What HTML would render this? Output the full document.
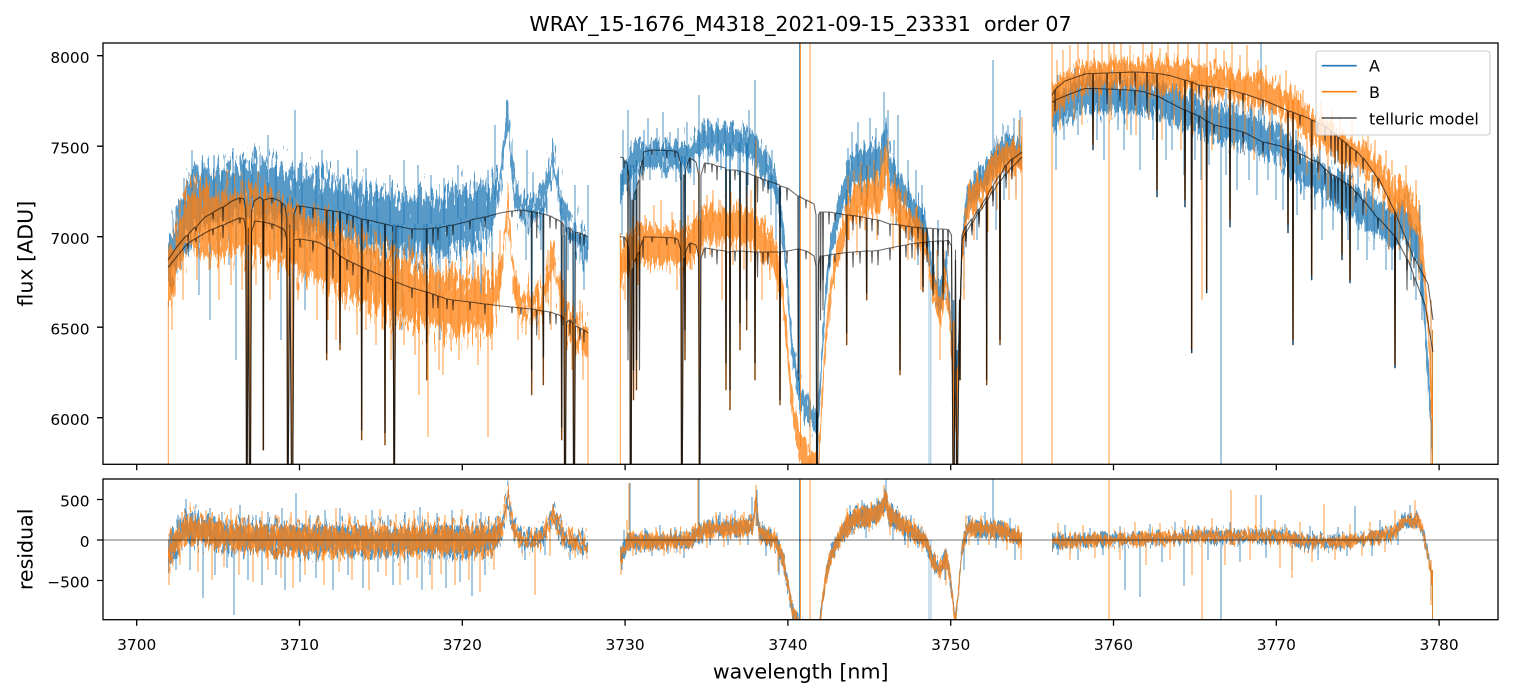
<!DOCTYPE html>
<html><head><meta charset="utf-8">
<style>
html,body{margin:0;padding:0;background:#fff;}
svg{display:block;}
text{font-family:"DejaVu Sans","Liberation Sans",sans-serif;fill:#000;}
</style></head>
<body>
<svg width="1513" height="696" viewBox="0 0 1513 696" xmlns="http://www.w3.org/2000/svg">
<defs>
<clipPath id="ct"><rect x="103" y="43" width="1395" height="421.3"/></clipPath>
<clipPath id="cb"><rect x="103" y="479" width="1395" height="140.7"/></clipPath>
<filter id="fA1" filterUnits="userSpaceOnUse" x="0" y="0" width="1513" height="696" color-interpolation-filters="sRGB">
<feTurbulence type="fractalNoise" baseFrequency="0.5 0.05" numOctaves="2" seed="1" result="t"/>
<feColorMatrix in="t" type="matrix" values="0 0 0 0 0.5  0 1 0 0 0  0 0 1 0 0  0 0 0 0 1" result="m"/>
<feDisplacementMap in="SourceGraphic" in2="m" scale="70" xChannelSelector="R" yChannelSelector="G"/>
</filter>
<filter id="fB1" filterUnits="userSpaceOnUse" x="0" y="0" width="1513" height="696" color-interpolation-filters="sRGB">
<feTurbulence type="fractalNoise" baseFrequency="0.5 0.05" numOctaves="2" seed="7" result="t"/>
<feColorMatrix in="t" type="matrix" values="0 0 0 0 0.5  0 1 0 0 0  0 0 1 0 0  0 0 0 0 1" result="m"/>
<feDisplacementMap in="SourceGraphic" in2="m" scale="70" xChannelSelector="R" yChannelSelector="G"/>
</filter>
<filter id="fA2" filterUnits="userSpaceOnUse" x="0" y="0" width="1513" height="696" color-interpolation-filters="sRGB">
<feTurbulence type="fractalNoise" baseFrequency="0.5 0.06" numOctaves="2" seed="3" result="t"/>
<feColorMatrix in="t" type="matrix" values="0 0 0 0 0.5  0 1 0 0 0  0 0 1 0 0  0 0 0 0 1" result="m"/>
<feDisplacementMap in="SourceGraphic" in2="m" scale="40" xChannelSelector="R" yChannelSelector="G"/>
</filter>
<filter id="fB2" filterUnits="userSpaceOnUse" x="0" y="0" width="1513" height="696" color-interpolation-filters="sRGB">
<feTurbulence type="fractalNoise" baseFrequency="0.5 0.06" numOctaves="2" seed="9" result="t"/>
<feColorMatrix in="t" type="matrix" values="0 0 0 0 0.5  0 1 0 0 0  0 0 1 0 0  0 0 0 0 1" result="m"/>
<feDisplacementMap in="SourceGraphic" in2="m" scale="40" xChannelSelector="R" yChannelSelector="G"/>
</filter>
<filter id="fRA1" filterUnits="userSpaceOnUse" x="0" y="0" width="1513" height="696" color-interpolation-filters="sRGB">
<feTurbulence type="fractalNoise" baseFrequency="0.5 0.08" numOctaves="2" seed="4" result="t"/>
<feColorMatrix in="t" type="matrix" values="0 0 0 0 0.5  0 1 0 0 0  0 0 1 0 0  0 0 0 0 1" result="m"/>
<feDisplacementMap in="SourceGraphic" in2="m" scale="40" xChannelSelector="R" yChannelSelector="G"/>
</filter>
<filter id="fRB1" filterUnits="userSpaceOnUse" x="0" y="0" width="1513" height="696" color-interpolation-filters="sRGB">
<feTurbulence type="fractalNoise" baseFrequency="0.5 0.08" numOctaves="2" seed="11" result="t"/>
<feColorMatrix in="t" type="matrix" values="0 0 0 0 0.5  0 1 0 0 0  0 0 1 0 0  0 0 0 0 1" result="m"/>
<feDisplacementMap in="SourceGraphic" in2="m" scale="40" xChannelSelector="R" yChannelSelector="G"/>
</filter>
<filter id="fRA2" filterUnits="userSpaceOnUse" x="0" y="0" width="1513" height="696" color-interpolation-filters="sRGB">
<feTurbulence type="fractalNoise" baseFrequency="0.5 0.1" numOctaves="2" seed="5" result="t"/>
<feColorMatrix in="t" type="matrix" values="0 0 0 0 0.5  0 1 0 0 0  0 0 1 0 0  0 0 0 0 1" result="m"/>
<feDisplacementMap in="SourceGraphic" in2="m" scale="22" xChannelSelector="R" yChannelSelector="G"/>
</filter>
<filter id="fRB2" filterUnits="userSpaceOnUse" x="0" y="0" width="1513" height="696" color-interpolation-filters="sRGB">
<feTurbulence type="fractalNoise" baseFrequency="0.5 0.1" numOctaves="2" seed="13" result="t"/>
<feColorMatrix in="t" type="matrix" values="0 0 0 0 0.5  0 1 0 0 0  0 0 1 0 0  0 0 0 0 1" result="m"/>
<feDisplacementMap in="SourceGraphic" in2="m" scale="22" xChannelSelector="R" yChannelSelector="G"/>
</filter>
</defs>
<rect width="1513" height="696" fill="#fff"/>

<!-- ================= TOP PANEL ================= -->
<g clip-path="url(#ct)">
 <!-- A (blue) -->
 <g fill="#1f77b4" fill-opacity="0.75" stroke="none">
  <g filter="url(#fA1)">
   <polygon points="168,236 175,222 185,186 200,170 225,167 245,159 262,161 280,167 300,174 325,177 350,185 380,191 410,197 440,196 470,188 490,185 500,174 505,128 508,98 511,145 515,180 520,197 540,196 547,175 553,146 559,180 566,213 588,239 588,263 566,237 559,204 553,170 547,199 540,220 520,221 515,204 511,169 508,122 505,152 500,198 490,236 470,246 440,254 410,255 380,249 350,243 325,235 300,232 280,225 262,219 245,217 225,225 200,228 185,244 175,276 168,288"/>
  </g>
  <g filter="url(#fA2)">
   <polygon points="620,177 626,159 632,147 640,143 690,143 705,124 745,130 752,132 760,145 775,171 782,210 787,266 792,334 800,383 810,402 818,410 822,340 826,277 832,226 838,201 845,172 855,151 870,149 880,144 886,119 889,149 903,182 915,199 926,215 932,260 940,285 946,252 950,297 955,397 958,342 962,233 968,182 975,176 990,155 1000,139 1005,134 1022,139 1022,165 1005,160 1000,165 990,181 975,202 968,208 962,259 958,368 955,423 950,323 946,278 940,311 932,286 926,241 915,225 903,208 889,181 886,151 880,176 870,181 855,183 845,204 838,227 832,252 826,303 822,366 818,436 810,428 800,409 792,360 787,292 782,236 775,197 760,171 752,158 745,156 705,150 690,169 640,169 632,173 626,185 620,203"/>
   <polygon points="1052,97 1070,84 1085,78 1145,80 1177,89 1213,105 1247,114 1280,127 1300,149 1330,168 1363,192 1395,214 1402,198 1413,219 1418,231 1423,272 1428,355 1433,442 1433,468 1428,389 1423,306 1418,265 1413,253 1402,232 1395,248 1363,226 1330,202 1300,183 1280,161 1247,148 1213,139 1177,123 1145,114 1085,112 1070,118 1052,131"/>
  </g>
 </g>
 <g fill="none" stroke="#1f77b4" stroke-opacity="0.8" stroke-width="1">
  <path d="M184 178V240M192 150V200M203 163V200M214 155V200M222 170V200M233 148V200M244 160V200M252 158V198M268 135V198M276 165V198M295 110V198M302 152V210M316 165V210M322 150V210M338 160V210M344 175V210M357 150V224M366 168V224M377 185V224M390 175V224M404 160V224M418 165V224M431 175V224M444 178V224M458 165V218M466 190V218M477 182V218M488 170V218M495 125V200M527 150V208M533 172V208M561 190V235M575 185V235M588 185V250"/>
  <path d="M181 240V270M191 200V250M199 200V295M210 200V320M218 200V260M229 200V265M236 200V360M255 198V250M274 198V260M281 198V340M305 210V310M310 210V262M329 210V290M349 210V270M358 224V300M371 224V285M379 224V292M398 224V290M402 224V330M415 224V300M424 224V285M436 224V300M440 224V340M449 224V290M461 218V300M473 218V280M481 218V305M492 218V290M526 208V260M541 208V250M568 235V270M584 235V290"/>
  <path stroke-width="1.6" d="M246.7 200V470M250 200V470M263.3 198V450M287.7 198V470M292.3 198V470M326.7 210V353M340 210V343M361.7 224V430M385 224V433M394 224V470M426.7 224V343M531.7 208V370M543.3 208V357M561.7 235V427M565 235V470M574 235V470"/>
  <path d="M623 130V185M628 110V170M644 130V156M648 118V156M657 128V156M663 112V156M670 132V156M678 128V156M687 122V156M699 95V158M704 118V143M712 125V143M718 118V143M725 128V143M733 120V143M741 130V143M749 110V143M755 80V145M766 145V175M772 150V180M848 148V185M852 132V170M858 122V167M864 140V166M870 118V165M876 128V163M884 92V150M888 110V160M894 140V175M898 115V185M908 160V200M916 170V210M922 185V225M938 220V280M980 165V185M993 60V165M998 150V160M1008 125V150M1014 118V150M1020 110V150"/>
  <path d="M622 170V235M635 170V200M650 156V180M662 156V178M676 156V182M694 156V185M708 143V165M721 143V170M738 143V175M748 143V185M771 175V215M776 180V240M850 180V215M862 165V205M875 163V205M885 150V190M896 175V225M910 200V240M918 210V265M945 260V300M964 240V290M977 190V240M996 165V230M1004 150V200M1016 150V195M799.5 35V396"/>
  <path stroke-opacity="0.45" d="M929 280V470M930.8 280V470"/>
  <path stroke-width="1.6" d="M630.5 165V470M633.5 165V370M636.5 160V360M681.7 156V470M685 156V330M699.3 156V470M726 143V363M730 143V390M740 143V323M746.7 143V300M755 143V363M780 186V400M816.7 415V470M846.7 190V333M866.7 165V293M900 190V370M923 215V287M953.5 300V470M957 350V470M960 300V380M986.7 175V380M1000 152V340"/>
  <path d="M1058 75V100M1075 68V92M1090 70V90M1100 65V90M1112 70V90M1125 62V90M1138 72V90M1150 75V95M1163 70V100M1180 80V100M1196 80V100M1210 85V118M1226 90V118M1238 95V118M1252 100V135M1261 40V138M1272 105V140M1296 130V150M1320 145V170M1345 160V185M1358 165V200M1372 175V210M1390 195V220M1408 190V215M1420 205V240"/>
  <path d="M1056 90V170M1064 90V140M1078 90V135M1097 90V140M1104 90V160M1118 90V130M1124 90V150M1131 90V135M1140 90V170M1153 100V140M1166 100V160M1172 100V150M1184 100V175M1195 100V160M1201 118V180M1209 118V165M1221 118V470M1226 118V175M1237 118V190M1249 118V180M1257 140V195M1268 140V180M1276 140V200M1283 140V210M1297 140V215M1304 175V200M1315 175V210M1322 175V240M1333 175V230M1348 175V240M1358 210V250M1367 210V260M1374 210V250M1386 210V270M1392 210V270M1400 225V260M1411 225V280M1416 225V300M1422 260V320M1431 300V470M1432.5 330V470"/>
  <path stroke-width="1.6" d="M1093 90V150M1157 100V197M1185 100V207M1191.7 100V353M1206.7 118V293M1230 118V227M1288 140V233M1293 140V345M1311.7 175V280M1342 175V260M1350 190V283M1395 210V368"/>
 </g>

 <!-- B (orange) -->
 <g fill="#ff7f0e" fill-opacity="0.75" stroke="none">
  <g filter="url(#fB1)">
   <polygon points="168,254 175,236 187,191 200,188 217,194 238,188 268,195 297,212 315,215 343,232 373,247 413,262 450,274 490,278 500,264 505,221 508,192 511,239 515,275 520,294 540,293 547,273 553,244 559,277 566,307 588,328 588,352 566,331 559,301 553,268 547,297 540,317 520,318 515,299 511,263 508,216 505,245 500,298 490,332 450,336 413,324 373,309 343,294 315,277 297,274 268,257 238,250 217,256 200,250 187,250 175,288 168,306"/>
  </g>
  <g filter="url(#fB2)">
   <polygon points="620,257 626,239 632,232 640,229 690,229 705,207 745,209 752,211 760,221 775,239 782,274 787,327 792,391 800,434 810,452 818,460 822,387 826,322 832,267 838,240 845,210 855,187 870,181 880,178 886,143 889,177 903,201 915,215 926,228 932,273 940,296 946,269 950,308 955,407 958,357 962,242 968,191 983,174 1000,146 1022,144 1022,170 1000,172 983,200 968,217 962,268 958,383 955,433 950,334 946,295 940,323 932,299 926,254 915,242 903,227 889,209 886,175 880,210 870,213 855,219 845,241 838,266 832,293 826,348 822,413 818,486 810,478 800,460 792,417 787,353 782,301 775,273 760,255 752,245 745,243 705,241 690,264 640,263 632,266 626,273 620,291"/>
   <polygon points="1052,88 1065,73 1085,62 1140,60 1170,63 1197,65 1230,69 1263,79 1290,91 1310,112 1325,119 1345,136 1360,141 1380,161 1395,187 1402,178 1413,200 1418,209 1423,245 1428,308 1433,408 1433,436 1428,336 1423,273 1418,237 1413,228 1402,206 1395,215 1380,189 1360,169 1345,164 1325,147 1310,140 1290,119 1263,107 1230,97 1197,93 1170,91 1140,88 1085,90 1065,101 1052,116"/>
  </g>
 </g>
 <g fill="none" stroke="#ff7f0e" stroke-opacity="0.8" stroke-width="1">
  <path d="M180 200V250M194 175V218M206 178V218M216 183V218M227 170V218M241 180V218M258 172V218M265 185V218M279 190V230M290 195V230M303 205V248M318 205V248M330 215V248M337 210V248M351 220V275M363 230V275M375 232V275M388 240V275M397 248V275M409 235V292M421 250V292M430 245V292M446 258V292M455 262V302M467 250V302M475 260V302M484 252V302M493 252V302M500 230V290M516 270V305M538 280V305M548 250V285M563 280V325M580 300V325"/>
  <path d="M172 250V330M183 250V300M197 218V280M209 218V270M219 218V300M231 218V285M242 218V290M256 218V285M270 230V300M278 230V280M298 230V300M307 248V290M317 248V320M328 248V320M336 248V340M345 248V310M357 275V335M366 275V330M376 275V345M383 275V330M391 275V360M404 292V345M415 292V355M419 292V395M428 292V437M439 292V370M443 292V375M451 302V350M459 302V360M468 302V335M478 302V365M488 302V437M492 302V350M518 305V340M526 305V335M539 305V340M551 270V330M567 325V350M572 325V370M583 325V380M168.3 300V470M588 327V470"/>
  <path stroke-width="1.6" d="M246.7 218V470M250 218V470M263.3 218V450M287.7 230V470M292.3 230V470M326.7 248V360M340 248V350M361.7 275V440M385 275V445M394 275V470M426.7 292V380M531.7 305V395M543.3 305V385M561.7 325V440M565 325V470M574 325V470"/>
  <path d="M621 240V270M633 215V250M645 215V242M654 205V242M661 200V242M672 212V242M680 220V242M688 215V242M694 200V242M699 170V242M707 195V222M713 190V222M720 200V222M731 192V222M739 198V222M747 195V222M751 190V222M756 140V222M765 215V250M771 225V252M848 175V220M854 170V205M861 162V200M868 165V198M874 160V197M881 150V195M888 138V180M895 172V205M906 190V218M917 205V228M937 250V300M944 250V275M963 230V255M970 180V200M978 170V195M991 165V180M1006 142V158M1013 140V158M1019 120V157"/>
  <path d="M625 255V300M638 245V285M648 242V270M659 242V265M668 242V262M677 242V290M692 242V270M703 222V255M710 222V255M722 222V300M733 222V265M744 222V270M751 222V262M762 250V300M770 252V280M777 252V300M849 220V240M857 205V255M865 200V230M877 197V240M893 205V250M899 210V245M908 218V260M915 228V260M921 240V290M940 310V360M964 255V300M974 200V240M988 190V232M997 165V210M1009 158V200M1016 158V200M800.5 35V447M810 35V470M620.3 233V470M1022 117V470"/>
  <path stroke-width="1.6" d="M630.5 255V470M633.5 255V400M636.5 250V390M681.7 242V470M685 242V360M699.3 242V470M726 222V390M730 222V410M740 222V350M746.7 222V330M755 222V380M780 252V405M846.7 225V345M866.7 197V300M900 214V375M923 240V292M953.5 321V470M957 370V470M960 300V380M986.7 187V385M1000 158V345"/>
  <path d="M1057 60V100M1063 50V85M1070 45V80M1078 43V75M1088 40V75M1094 50V75M1102 40V75M1114 43V75M1121 40V75M1130 45V75M1143 40V75M1152 42V80M1160 48V80M1168 40V80M1178 43V80M1188 40V80M1199 44V80M1207 40V80M1216 48V80M1224 50V80M1232 43V80M1240 55V80M1247 45V80M1258 60V100M1266 65V100M1280 75V100M1286 70V100M1295 85V100M1303 90V135M1316 95V135M1321 100V135M1332 110V135M1340 115V135M1352 120V175M1368 135V175M1375 140V175M1386 150V175M1392 160V175M1406 165V200M1416 180V210"/>
  <path d="M1060 75V130M1074 75V120M1082 75V125M1099 75V115M1111 75V120M1127 75V130M1136 75V135M1149 75V120M1162 80V140M1174 80V125M1181 80V150M1193 80V135M1202 80V300M1212 80V150M1219 80V140M1234 80V150M1245 80V135M1254 100V160M1270 100V150M1281 100V170M1298 100V165M1307 135V175M1319 135V180M1328 135V200M1353 175V210M1366 175V215M1373 175V210M1383 175V230M1389 175V250M1399 175V250M1404 200V240M1410 200V265M1419 200V280M1109 35V470M1052 35V470M1431 300V470M1432.5 330V470"/>
  <path stroke-width="1.6" d="M1093 75V145M1157 80V190M1185 80V200M1191.7 80V350M1206.7 80V290M1230 80V220M1288 100V225M1293 100V340M1311.7 135V275M1342 135V255M1350 175V280M1395 175V365"/>
 </g>

 <!-- telluric models -->
 <g fill="none" stroke="#000" stroke-opacity="0.6" stroke-width="1.1" stroke-linejoin="round">
  <path d="M168,260 L176,248 L185,237 L187.5,235 L188,241 L188.5,234 L195,227 L196,231 L197,226 L205,217 L212.5,213 L213,219 L213.5,212 L222.5,207 L223,221 L223.5,207 L232,201 L239.5,198 L240,203 L240.5,198 L244,199 L245.8,210 L246.5,480 L247.2,480 L248.3,228 L249.4,480 L250.5,480 L251.5,212 L254,201 L260,197 L262.8,200 L263.3,450 L263.8,200 L271.5,198 L272,203 L272.5,198 L280,201 L281.2,203 L281.7,228 L282.2,203 L285,206 L286.8,218 L287.5,480 L288.2,480 L289.8,225 L291.5,480 L292.8,480 L294,214 L297,206 L299.5,206 L300,214 L300.5,206 L312.5,208 L313,218 L313.5,208 L320,209 L326.2,210 L326.7,353 L327.2,210 L332.5,211 L333,241 L333.5,211 L339.5,212 L340,343 L340.5,212 L346.5,214 L347,224 L347.5,214 L352.5,216 L353,228 L353.5,216 L361.2,219 L361.7,430 L362.2,219 L367.5,220 L368,232 L368.5,220 L384.5,224 L385,433 L385.5,224 L392.5,226 L393.5,350 L394,480 L394.5,480 L395,350 L396,226 L411.5,229 L412,239 L412.5,229 L426.2,229 L426.7,343 L427.2,229 L432.5,228 L433,243 L433.5,228 L437.5,228 L438,240 L438.5,228 L446.5,226 L447,236 L447.5,226 L452.5,225 L453,235 L453.5,225 L469.5,221 L470,229 L470.5,220 L484.5,217 L485,227 L485.5,217 L500,213 L511.5,211 L512,217 L512.5,211 L520.5,210 L521,216 L521.5,210 L531.2,211.5 L531.7,370 L532.2,211.5 L536.2,212.5 L536.7,238 L537.2,212.5 L542.8,214 L543.3,357 L543.8,214 L549.5,216 L550,228 L550.5,216 L555.5,219 L556,229 L556.5,219 L561.2,222 L561.7,427 L562.2,222 L563.8,226 L564.5,480 L565.5,480 L566.5,228 L569.5,228 L570,243 L570.5,228 L572.8,232 L573.5,480 L574.5,480 L575.5,232 L579.5,233 L580,245 L580.5,233 L583.5,235 L584,245 L584.5,235 L588,237"/>
  <path d="M168,267.5 L178,255 L187.5,243.5 L188,249 L188.5,243 L195.5,238.5 L196,242 L196.5,238 L205,233 L212.5,229 L213,235 L213.5,229 L222.5,225 L223,238 L223.5,225 L230,222 L239.5,218 L240,223 L240.5,218 L244,219 L245.8,230 L246.5,480 L247.2,480 L248.3,245 L249.4,480 L250.5,480 L251.5,232 L255,221 L262.8,222 L263.3,450 L263.8,222 L271.5,224 L272,229 L272.5,224 L281.2,228 L281.7,252 L282.2,228 L285,231 L286.8,240 L287.5,480 L288.2,480 L289.8,248 L291.5,480 L292.8,480 L294,240 L299.5,239 L300,247 L300.5,239 L312.5,241 L313,251 L313.5,241 L320,243 L326.2,247 L326.7,360 L327.2,247 L332.5,250 L333,278 L333.5,250 L339.5,256 L340,350 L340.5,256 L346.5,260 L347,270 L347.5,260 L352.5,263 L353,275 L353.5,263 L361.2,267 L361.7,440 L362.2,267 L367.5,270 L368,282 L368.5,270 L384.5,277 L385,445 L385.5,277 L392.5,280 L393.5,380 L394,480 L394.5,480 L395,380 L396,282 L411.5,288 L412,298 L412.5,288 L426.2,292 L426.7,380 L427.2,292 L432.5,294 L433,308 L433.5,294 L437.5,296 L438,308 L438.5,296 L446.5,299 L447,309 L447.5,299 L452.5,300 L453,310 L453.5,300 L469.5,302 L470,310 L470.5,302 L484.5,304 L485,314 L485.5,304 L497,305.5 L511.5,307 L512,313 L512.5,307 L520.5,308 L521,314 L521.5,308 L531.2,309 L531.7,395 L532.2,309 L536.2,310 L536.7,335 L537.2,310 L542.8,311 L543.3,385 L543.8,311 L549.5,312 L550,324 L550.5,312 L555.5,314 L556,324 L556.5,314 L561.2,316 L561.7,440 L562.2,316 L563.8,320 L564.5,480 L565.5,480 L566.5,322 L569.5,320 L570,335 L570.5,320 L572.8,324 L573.5,480 L574.5,480 L575.5,326 L579.5,328 L580,340 L580.5,328 L583.5,330 L584,342 L584.5,330 L588,333"/>
  <path d="M620,157 L623.5,158 L624,168 L624.5,160 L627.5,165 L628,330 L628.5,170 L629.8,200 L630.3,480 L631.2,480 L632,200 L633,200 L633.5,370 L634,195 L636,190 L636.5,360 L637,185 L639,180 L639.5,330 L640,170 L642.5,160 L643,180 L643.5,152 L651.5,150 L652,155 L652.5,150 L666.2,150.5 L666.7,158 L667.2,150.5 L674.5,151 L675,157 L675.5,151 L678,153 L680.8,165 L681.5,480 L682.3,480 L683.5,175 L684.5,175 L685,330 L685.5,170 L689.5,158 L690,168 L690.5,158 L696,162 L698.6,175 L699.3,480 L700,480 L701,175 L704.5,163 L705,173 L705.5,163 L711.5,164 L712,172 L712.5,164 L716.5,166 L717,180 L717.5,166 L725.5,168 L726,363 L726.5,170 L729.5,170 L730,390 L730.5,170 L734.5,170 L735,180 L735.5,170 L739.5,171 L740,323 L740.5,171 L746.2,173 L746.7,300 L747.2,173 L754.5,176 L755,363 L755.5,176 L757,177 L757.5,202 L758,177 L762.5,179 L763,191 L763.5,179 L767.5,181 L768,193 L768.5,181 L779.5,185 L780,400 L780.5,186 L786.5,188 L787,200 L787.5,188 L797.8,196 L798.3,373 L798.8,196 L805.5,200 L806,208 L806.5,200 L814,204 L816,215 L816.7,480 L817.5,480 L818.5,215 L820,212 L820.5,290 L821,212 L822.5,212 L823,280 L823.5,212 L828.5,212 L829,224 L829.5,212 L834.5,213 L835,221 L835.5,213 L846.2,215 L846.7,333 L847.2,215 L852.5,215.5 L853,230 L853.5,215.5 L859.5,216.5 L860,228 L860.5,216.5 L866.2,218 L866.7,293 L867.2,218 L871.5,219 L872,231 L872.5,219 L877.5,220 L878,235 L878.5,220 L889.5,224 L890,236 L890.5,224 L899.5,225 L900,370 L900.5,225 L905.5,226 L906,238 L906.5,226 L911.5,227 L912,242 L912.5,227 L917.5,227.5 L918,239 L918.5,227.5 L922.5,228 L923,287 L923.5,228 L926.5,228 L927,248 L927.5,228 L932.5,228.5 L933,290 L933.5,228.5 L937.5,229 L938,244 L938.5,229 L942.5,229 L943,293 L943.5,229 L947.5,229.5 L948,245 L948.5,229.5 L951.5,235 L953,480 L954.2,480 L955.5,250 L956.5,480 L957.5,480 L959.5,300 L960,380 L960.5,300 L962,235 L965.5,226 L966,241 L966.5,226 L971.5,219 L972,231 L972.5,219 L975,215 L978.5,209 L979,224 L979.5,209 L986.2,197 L986.7,380 L987.2,196 L990,190 L992.5,186 L993,201 L993.5,185 L999.5,175 L1000,340 L1000.5,175 L1005.5,165 L1006,179 L1006.5,165 L1011.5,159 L1012,171 L1012.5,159 L1022,152"/>
  <path d="M620,236.7 L623.5,237 L624,247 L624.5,237 L627.5,242 L628,360 L628.5,246 L629.8,270 L630.3,480 L631.2,480 L632,270 L633,268 L633.5,400 L634,262 L636,258 L636.5,390 L637,255 L639,252 L639.5,370 L640,248 L642.5,240 L643,258 L643.5,237 L651.5,237 L652,242 L652.5,237 L666.2,237.5 L666.7,245 L667.2,237.5 L674.5,238 L675,244 L675.5,238 L678,240 L680.8,250 L681.5,480 L682.3,480 L683.5,258 L684.5,258 L685,360 L685.5,252 L689.5,243 L690,253 L690.5,243 L696,245 L698.6,256 L699.3,480 L700,480 L701,258 L704.5,248 L705,258 L705.5,248 L711.5,249 L712,257 L712.5,249 L716.5,250 L717,264 L717.5,250 L725.5,251 L726,390 L726.5,252 L729.5,252 L730,410 L730.5,252 L734.5,251 L735,261 L735.5,251 L739.5,251 L740,350 L740.5,251 L746.2,251.5 L746.7,330 L747.2,251.5 L754.5,252 L755,380 L755.5,252 L757,252 L757.5,277 L758,252 L762.5,252 L763,264 L763.5,252 L767.5,252 L768,264 L768.5,252 L779.5,252 L780,405 L780.5,252 L786.5,251 L787,263 L787.5,251 L797.8,249 L798.3,380 L798.8,249 L805.5,251 L806,259 L806.5,251 L814,256 L816,266 L816.7,480 L817.5,480 L818.5,264 L820,256 L820.5,320 L821,256 L822.5,256 L823,310 L823.5,256 L828.5,255 L829,267 L829.5,255 L834.5,254 L835,262 L835.5,254 L846.2,252.5 L846.7,345 L847.2,252.5 L852.5,252 L853,267 L853.5,252 L859.5,251.5 L860,263 L860.5,251.5 L866.2,251 L866.7,300 L867.2,251 L871.5,251 L872,263 L872.5,251 L877.5,250.5 L878,265 L878.5,250.5 L889.5,248 L890,260 L890.5,248 L899.5,246 L900,375 L900.5,246 L905.5,245 L906,257 L906.5,245 L911.5,243.5 L912,258 L912.5,243.5 L917.5,243 L918,255 L918.5,243 L922.5,242.5 L923,292 L923.5,242.5 L926.5,242 L927,262 L927.5,242 L932.5,241.5 L933,295 L933.5,241.5 L937.5,241 L938,256 L938.5,241 L942.5,241 L943,300 L943.5,241 L947.5,240.5 L948,256 L948.5,240.5 L951.5,246 L953,480 L954.2,480 L955.5,260 L956.5,480 L957.5,480 L959.5,300 L960,380 L960.5,300 L962,240 L965.5,232 L966,247 L966.5,232 L971.5,223 L972,235 L972.5,223 L978.5,212 L979,227 L979.5,212 L983,207 L986.2,201 L986.7,385 L987.2,201 L992.5,191 L993,206 L993.5,191 L999.5,181 L1000,345 L1000.5,181 L1005.5,174 L1006,188 L1006.5,174 L1011.5,167 L1012,179 L1012.5,167 L1022,157"/>
  <path d="M1052,102 L1054.5,101 L1055,111 L1055.5,100 L1070,94 L1085,88.5 L1092.5,88.5 L1093,150 L1093.5,88.5 L1106.5,89 L1107,104 L1107.5,89 L1119.5,89.5 L1120,101 L1120.5,89.5 L1134.5,90.5 L1135,105 L1135.5,90.5 L1145,92 L1146.5,93 L1147,113 L1147.5,93 L1156.5,96 L1157,197 L1157.5,96 L1177,106.4 L1184.5,110 L1185,207 L1185.5,110 L1191.2,113 L1191.7,353 L1192.2,113 L1198.5,116 L1199,128 L1199.5,116 L1206.2,121 L1206.7,293 L1207.2,121 L1213.5,124.5 L1214,134 L1214.5,125 L1229.5,128.5 L1230,227 L1230.5,128.5 L1242.5,132 L1243,152 L1243.5,132 L1262.5,142 L1263,157 L1263.5,142 L1280,146 L1287.5,149 L1288,233 L1288.5,149 L1292.5,151 L1293,345 L1293.5,151 L1299.5,154 L1300,164 L1300.5,154 L1307,157 L1311.2,160 L1311.7,280 L1312.2,160 L1317.5,162 L1318,172 L1318.5,162 L1324.5,169 L1325,184 L1325.5,169 L1330.5,174 L1331,199 L1331.5,174 L1334.5,176 L1335,206 L1335.5,176 L1337.5,178 L1338,203 L1338.5,178 L1341.5,181 L1342,260 L1342.5,181 L1345.5,183 L1346,208 L1346.5,183 L1349.5,186 L1350,283 L1350.5,186 L1355.5,192 L1356,202 L1356.5,192 L1362.5,200 L1363,215 L1363.5,200 L1377.5,218 L1378,228 L1378.5,218 L1394.5,236 L1395,368 L1395.5,237 L1397,240 L1406.5,258 L1407,290 L1407.5,259 L1413,273 L1413.5,276 L1414,286 L1414.5,277 L1425,305 L1433,352"/>
  <path d="M1052,95.5 L1054.5,90 L1055,100 L1055.5,89 L1065,81 L1085,74 L1092.5,73.5 L1093,145 L1093.5,73.5 L1106.5,73 L1107,88 L1107.5,73 L1119.5,72.5 L1120,84 L1120.5,72.5 L1134.5,72 L1135,87 L1135.5,72 L1146.5,72.5 L1147,92 L1147.5,72.5 L1156.5,73.5 L1157,190 L1157.5,73.5 L1170,75.6 L1184.5,80 L1185,200 L1185.5,80 L1191.2,82 L1191.7,350 L1192.2,82 L1198.5,85 L1199,97 L1199.5,85 L1206.2,86 L1206.7,290 L1207.2,86 L1213.5,87 L1214,97 L1214.5,87 L1229.5,90 L1230,220 L1230.5,90 L1242.5,93.5 L1243,113 L1243.5,93.5 L1262.5,100 L1263,115 L1263.5,100 L1287.5,110.5 L1288,225 L1288.5,111 L1292.5,112 L1293,340 L1293.5,112.5 L1299.5,115 L1300,125 L1300.5,115 L1310,119 L1311.2,120 L1311.7,275 L1312.2,120 L1317.5,123 L1318,133 L1318.5,123 L1324.5,126 L1325,141 L1325.5,126.5 L1330.5,131 L1331,156 L1331.5,131 L1334.5,134 L1335,164 L1335.5,134 L1337.5,137 L1338,162 L1338.5,137 L1341.5,140 L1342,255 L1342.5,140 L1345.5,143 L1346,168 L1346.5,143 L1349.5,147 L1350,280 L1350.5,147 L1355.5,151 L1356,161 L1356.5,151 L1360,155 L1362.5,158 L1363,173 L1363.5,158 L1377.5,178 L1378,188 L1378.5,178 L1394.5,211 L1395,365 L1395.5,212 L1397,217 L1406.5,240 L1407,270 L1407.5,241 L1413,256.6 L1413.5,258 L1414,268 L1414.5,258 L1428,284 L1433,320"/>
 </g>
</g>

<!-- ================= RESIDUAL PANEL ================= -->
<g clip-path="url(#cb)">
 <g fill="#1f77b4" fill-opacity="0.75">
  <g filter="url(#fRA1)">
   <polygon points="168,539 175,531 185,515 200,517 230,524 300,527 480,527 492,526 502,520 508,487 513,521 520,534 540,532 547,522 553,508 559,522 566,534 588,540 588,552 566,546 559,534 553,520 547,534 540,544 520,546 513,535 508,503 502,536 492,550 480,553 300,553 230,550 200,543 185,541 175,557 168,565"/>
  </g>
  <g filter="url(#fRA2)">
   <polygon points="620,548 626,539 631,533 640,535 690,533 696,527 702,525 706,522 745,520 753,519 756,489 759,525 775,533 782,549 787,573 792,602 800,622 818,630 822,598 826,569 832,545 838,533 845,519 855,509 870,507 880,503 886,491 889,505 903,517 915,526 926,533 932,553 940,564 946,549 950,569 955,614 958,590 962,541 968,521 1000,523 1022,533 1022,547 1000,537 968,535 962,555 958,604 955,628 950,583 946,563 940,578 932,567 926,547 915,540 903,535 889,523 886,509 880,521 870,525 855,527 845,537 838,547 832,559 826,583 822,612 818,644 800,636 792,616 787,587 782,563 775,547 759,539 756,503 753,533 745,534 706,536 702,539 696,541 690,547 640,549 631,547 626,553 620,562"/>
   <polygon points="1052,537 1100,535 1200,531 1288,531 1300,537 1340,537 1360,534 1395,528 1402,517 1418,515 1423,527 1428,551 1433,579 1433,589 1428,561 1423,537 1418,525 1402,527 1395,538 1360,544 1340,547 1300,547 1288,541 1200,541 1100,545 1052,547"/>
  </g>
 </g>
 <g fill="none" stroke="#1f77b4" stroke-opacity="0.8" stroke-width="1">
  <path d="M178 515V530M186 499V530M195 510V532M210 508V535M222 512V537M240 505V538M256 515V540M268 512V540M282 508V540M296 493V540M310 515V540M325 510V540M340 508V540M355 516V540M372 510V540M388 515V540M405 512V540M420 507V540M437 513V540M452 510V540M468 515V540M481 512V540"/>
  <path d="M176 540V570M190 530V570M203 530V598M215 535V575M227 537V568M234 538V615M248 540V580M262 540V585M276 540V575M285 540V590M300 540V582M316 540V578M333 540V590M348 540V575M363 540V588M378 540V572M393 540V585M408 540V580M422 540V590M430 540V575M446 540V588M460 540V582M472 540V596M485 540V575M525 540V560M545 530V555M570 540V560"/>
  <path d="M624 530V545M630 483V540M645 528V542M660 525V540M675 527V540M699 479V533M720 512V527M735 510V527M752 497V526M757 490V526M771 530V540M850 505V525M862 500V518M877 498V515M886 479V500M897 510V522M911 515V530M970 515V528M985 512V530M993 479V530M1010 518V533"/>
  <path d="M622 550V570M636 542V555M652 540V556M668 540V554M684 540V558M710 528V545M728 527V545M748 527V545M766 535V556M779 548V575M852 522V535M866 516V538M893 518V540M905 527V545M918 535V548M945 556V580M964 540V570M978 528V545M996 530V548M1015 535V560M799.5 479V620"/>
  <path stroke-opacity="0.45" d="M929 540V620M931 540V620"/>
  <path d="M1065 525V540M1090 528V540M1120 526V540M1150 524V538M1175 522V537M1198 525V536M1230 522V536M1261 495V536M1285 524V536M1310 526V542M1338 527V542M1355 506V540M1380 520V536M1410 505V518"/>
  <path d="M1058 542V555M1078 540V560M1103 540V555M1125 540V590M1140 540V597M1162 538V562M1184 537V586M1208 536V560M1221 536V620M1240 536V562M1266 536V558M1292 538V570M1318 542V560M1347 542V556M1372 537V556M1398 530V545M1431 560V600M1432.5 570V620"/>
 </g>

 <g fill="#ff7f0e" fill-opacity="0.75">
  <g filter="url(#fRB1)">
   <polygon points="168,539 175,531 185,515 200,517 230,524 300,527 480,527 492,526 502,520 508,487 513,521 520,534 540,532 547,522 553,508 559,522 566,534 588,540 588,552 566,546 559,534 553,520 547,534 540,544 520,546 513,535 508,503 502,536 492,550 480,553 300,553 230,550 200,543 185,541 175,557 168,565"/>
  </g>
  <g filter="url(#fRB2)">
   <polygon points="620,548 626,539 631,533 640,535 690,533 696,527 702,525 706,522 745,520 753,519 756,489 759,525 775,533 782,549 787,573 792,602 800,622 818,630 822,598 826,569 832,545 838,533 845,519 855,509 870,507 880,503 886,491 889,505 903,517 915,526 926,533 932,553 940,564 946,549 950,569 955,614 958,590 962,541 968,521 1000,523 1022,533 1022,547 1000,537 968,535 962,555 958,604 955,628 950,583 946,563 940,578 932,567 926,547 915,540 903,535 889,523 886,509 880,521 870,525 855,527 845,537 838,547 832,559 826,583 822,612 818,644 800,636 792,616 787,587 782,563 775,547 759,539 756,503 753,533 745,534 706,536 702,539 696,541 690,547 640,549 631,547 626,553 620,562"/>
   <polygon points="1052,537 1100,535 1200,531 1288,531 1300,537 1340,537 1360,534 1395,528 1402,517 1418,515 1423,527 1428,551 1433,579 1433,589 1428,561 1423,537 1418,525 1402,527 1395,538 1360,544 1340,547 1300,547 1288,541 1200,541 1100,545 1052,547"/>
  </g>
 </g>
 <g fill="none" stroke="#ff7f0e" stroke-opacity="0.8" stroke-width="1">
  <path d="M182 512V530M192 515V532M206 510V535M219 514V537M231 508V538M249 515V540M262 511V540M278 516V540M291 512V540M306 510V540M319 516V540M336 508V540M349 513V540M366 515V540M380 509V540M396 514V540M414 510V540M428 512V540M445 515V540M462 509V540M476 513V540M489 516V540M535 527V540M562 520V530"/>
  <path d="M169 552V585M180 540V565M198 530V572M212 535V580M224 537V567M239 538V575M253 540V582M268 540V570M281 540V578M293 540V588M305 540V575M324 540V585M339 540V572M352 540V580M369 540V590M386 540V576M400 540V585M417 540V578M432 540V590M441 540V574M455 540V585M469 540V580M480 540V592M494 540V570M535 540V595M550 525V556M575 540V558"/>
  <path d="M627 520V545M629 483V530M642 530V542M656 527V540M671 528V540M698 479V533M716 512V527M731 514V527M744 512V527M756 485V526M769 530V540M847 508V525M858 503V518M871 502V515M884 485V500M900 513V522M914 518V530M966 515V528M981 515V530M1002 520V533M1018 525V540"/>
  <path d="M621 555V575M633 542V556M649 540V552M664 540V556M680 540V554M707 528V548M724 527V547M740 527V545M761 530V545M778 548V572M855 518V530M869 516V532M890 514V535M908 527V548M922 535V552M946 556V585M969 528V545M989 530V545M1007 530V550M1021 540V560M800.5 479V620M810 479V620"/>
  <path d="M1058 523V542M1083 525V540M1109 479V540M1135 522V540M1160 523V538M1185 520V537M1212 518V536M1231 490V536M1256 495V536M1275 520V536M1300 522V542M1324 504V542M1350 524V540M1370 522V538M1395 510V533M1415 500V520"/>
  <path d="M1070 540V560M1095 540V558M1109 540V620M1120 540V560M1146 538V565M1170 537V560M1192 536V575M1202 536V620M1225 536V565M1250 536V560M1280 536V568M1292 538V578M1312 542V562M1335 542V560M1362 539V556M1385 535V552M1431 560V605M1432.5 570V618"/>
 </g>
 <line x1="103" y1="540" x2="1498" y2="540" stroke="#000" stroke-opacity="0.55" stroke-width="0.9"/>
</g>

<!-- title -->
<text x="800.5" y="31" font-size="20.6" text-anchor="middle" style="white-space:pre">WRAY_15-1676_M4318_2021-09-15_23331  order 07</text>

<!-- spines -->
<rect x="103" y="43" width="1395" height="421.3" fill="none" stroke="#000" stroke-width="1.3"/>
<rect x="103" y="479" width="1395" height="140.7" fill="none" stroke="#000" stroke-width="1.3"/>

<!-- ticks -->
<g stroke="#000" stroke-width="1.3">
 <path d="M136.7 464.3V470.3M299.5 464.3V470.3M462.3 464.3V470.3M625.1 464.3V470.3M787.9 464.3V470.3M950.7 464.3V470.3M1113.5 464.3V470.3M1276.3 464.3V470.3M1439.1 464.3V470.3"/>
 <path d="M136.7 619.7V625.7M299.5 619.7V625.7M462.3 619.7V625.7M625.1 619.7V625.7M787.9 619.7V625.7M950.7 619.7V625.7M1113.5 619.7V625.7M1276.3 619.7V625.7M1439.1 619.7V625.7"/>
 <path d="M97 55.7H103M97 146.2H103M97 236.7H103M97 327.2H103M97 417.7H103M97 499.5H103M97 540H103M97 580.5H103"/>
</g>
<g font-size="15.4">
 <text x="136.7" y="650" text-anchor="middle">3700</text>
 <text x="299.5" y="650" text-anchor="middle">3710</text>
 <text x="462.3" y="650" text-anchor="middle">3720</text>
 <text x="625.1" y="650" text-anchor="middle">3730</text>
 <text x="787.9" y="650" text-anchor="middle">3740</text>
 <text x="950.7" y="650" text-anchor="middle">3750</text>
 <text x="1113.5" y="650" text-anchor="middle">3760</text>
 <text x="1276.3" y="650" text-anchor="middle">3770</text>
 <text x="1439.1" y="650" text-anchor="middle">3780</text>
 <text x="89.5" y="63" text-anchor="end">8000</text>
 <text x="89.5" y="153.5" text-anchor="end">7500</text>
 <text x="89.5" y="244" text-anchor="end">7000</text>
 <text x="89.5" y="334.5" text-anchor="end">6500</text>
 <text x="89.5" y="425" text-anchor="end">6000</text>
 <text x="89.5" y="506.3" text-anchor="end">500</text>
 <text x="89.5" y="546.8" text-anchor="end">0</text>
 <text x="89.5" y="587.3" text-anchor="end">−500</text>
</g>

<text x="800.7" y="678.3" font-size="20.6" text-anchor="middle">wavelength [nm]</text>
<text transform="translate(32.5,253.7) rotate(-90)" font-size="20.6" text-anchor="middle">flux [ADU]</text>
<text transform="translate(32.5,549.3) rotate(-90)" font-size="20.6" text-anchor="middle">residual</text>

<!-- legend -->
<rect x="1316" y="51" width="174" height="84" rx="3" ry="3" fill="#fff" fill-opacity="0.8" stroke="#cccccc" stroke-width="1.1"/>
<line x1="1321.7" y1="65.7" x2="1356.7" y2="65.7" stroke="#1f77b4" stroke-width="1.7"/>
<line x1="1321.7" y1="91.7" x2="1356.7" y2="91.7" stroke="#ff7f0e" stroke-width="1.7"/>
<line x1="1321.7" y1="118" x2="1356.7" y2="118" stroke="#000" stroke-opacity="0.6" stroke-width="1.7"/>
<text x="1369" y="71.7" font-size="16">A</text>
<text x="1369" y="98" font-size="16">B</text>
<text x="1369" y="124.5" font-size="16">telluric model</text>
</svg>
</body></html>
